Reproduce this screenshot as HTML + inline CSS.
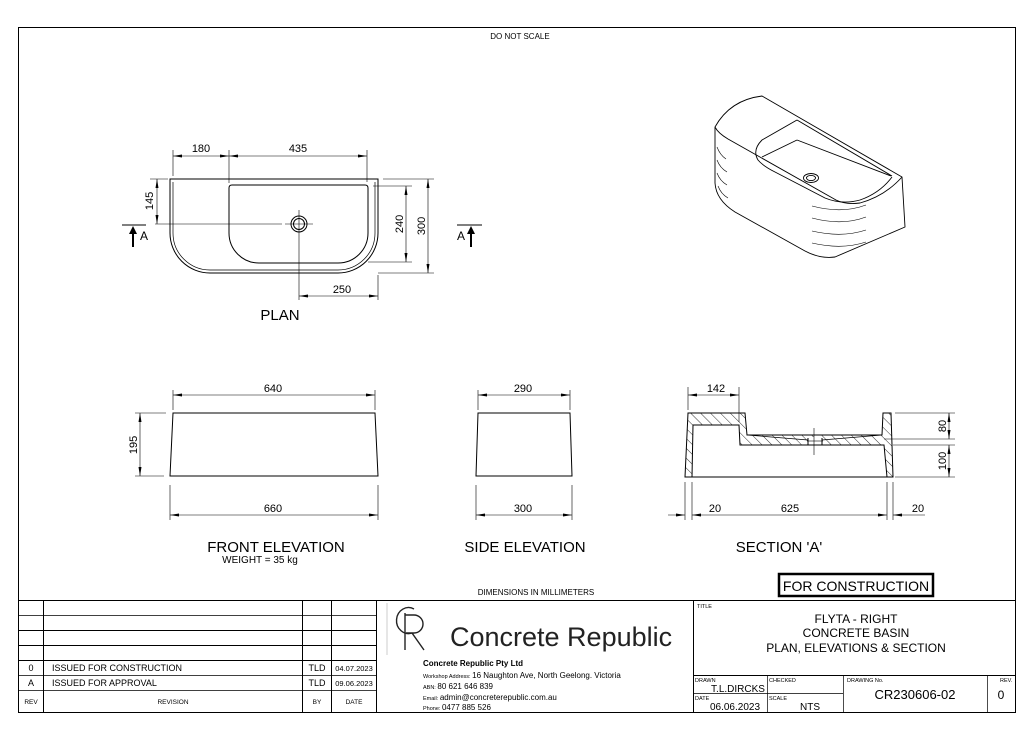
<!DOCTYPE html>
<html><head><meta charset="utf-8"><style>
html,body{margin:0;padding:0;background:#fff;}
svg{display:block;font-family:"Liberation Sans",Arial,sans-serif;}
</style></head><body>
<svg width="1034" height="732" viewBox="0 0 1034 732" xmlns="http://www.w3.org/2000/svg">
<defs>
<pattern id="h" patternUnits="userSpaceOnUse" width="7" height="7" patternTransform="rotate(-45)">
<rect width="7" height="7" fill="#fff"/><line x1="0" y1="0" x2="0" y2="7" stroke="#000" stroke-width="0.8"/>
</pattern>
<marker id="a" markerWidth="10" markerHeight="6" refX="9" refY="3" orient="auto-start-reverse" markerUnits="userSpaceOnUse"><path d="M0,1.5 L9,3 L0,4.5z" fill="#000"/></marker>
</defs>
<g fill="none" stroke="#000" stroke-width="1">
<rect x="18.5" y="27.5" width="997" height="685"/>
<line x1="18" y1="600.5" x2="1016" y2="600.5"/>
<line x1="18" y1="615.5" x2="376" y2="615.5" stroke-width="0.7"/>
<line x1="18" y1="630.5" x2="376" y2="630.5"/>
<line x1="18" y1="645.5" x2="376" y2="645.5"/>
<line x1="18" y1="660.5" x2="376" y2="660.5"/>
<line x1="18" y1="675.5" x2="376" y2="675.5" stroke-width="0.7"/>
<line x1="18" y1="690.5" x2="376" y2="690.5" stroke-width="0.7"/>
<line x1="43.5" y1="600" x2="43.5" y2="712"/>
<line x1="302.5" y1="600" x2="302.5" y2="712"/>
<line x1="331.5" y1="600" x2="331.5" y2="712"/>
<line x1="376.5" y1="600" x2="376.5" y2="712"/>
<line x1="693.5" y1="600" x2="693.5" y2="712"/>
<line x1="693" y1="675.5" x2="1016" y2="675.5"/>
<line x1="693" y1="693.5" x2="843" y2="693.5" stroke-width="0.7"/>
<line x1="767.5" y1="675" x2="767.5" y2="712" stroke-width="0.7"/>
<line x1="843.5" y1="675" x2="843.5" y2="712" stroke-width="0.7"/>
<line x1="987.5" y1="675" x2="987.5" y2="712" stroke-width="0.7"/>
<rect x="779" y="574" width="154" height="22" stroke-width="2.5"/>
<line x1="387" y1="603" x2="387" y2="655" stroke="#ccc"/>
</g>
<!-- PLAN -->
<g fill="none" stroke="#000" stroke-width="1">
<path d="M170,179 L170,233 A40,40 0 0 0 210,273 L338,273 A40,40 0 0 0 378,233 L378,179 Z"/>
<path d="M173,182 L173,233 A37,37 0 0 0 210,270 L338,270 A37,37 0 0 0 375,233 L375,182" stroke-width="0.7"/>
<path d="M232,185 L365,185 Q368,185 368,188 L368,233 A30,30 0 0 1 338,263 L259,263 A30,30 0 0 1 229,233 L229,188 Q229,185 232,185 Z"/>
<circle cx="299" cy="224" r="8"/><circle cx="299" cy="224" r="5.5"/>
<g stroke-width="0.6">
<line x1="155" y1="224" x2="282" y2="224"/><line x1="285" y1="224" x2="313" y2="224"/>
<line x1="299" y1="210" x2="299" y2="300"/>
<line x1="173" y1="150" x2="173" y2="176"/><line x1="229" y1="150" x2="229" y2="183"/><line x1="367" y1="150" x2="367" y2="182"/>
<line x1="173" y1="156" x2="229" y2="156" marker-start="url(#a)" marker-end="url(#a)"/>
<line x1="229" y1="156" x2="367" y2="156" marker-start="url(#a)" marker-end="url(#a)"/>
<line x1="150" y1="179" x2="168" y2="179"/>
<line x1="157" y1="179" x2="157" y2="224" marker-start="url(#a)" marker-end="url(#a)"/>
<line x1="373" y1="186" x2="412" y2="186"/><line x1="368" y1="262" x2="412" y2="262"/>
<line x1="406" y1="186" x2="406" y2="262" marker-start="url(#a)" marker-end="url(#a)"/>
<line x1="383" y1="179" x2="434" y2="179"/><line x1="378" y1="273" x2="434" y2="273"/>
<line x1="428" y1="179" x2="428" y2="273" marker-start="url(#a)" marker-end="url(#a)"/>
<line x1="378" y1="275" x2="378" y2="300"/>
<line x1="299" y1="296" x2="378" y2="296" marker-start="url(#a)" marker-end="url(#a)"/>
</g>
<line x1="122" y1="225" x2="146" y2="225"/>
<line x1="457" y1="225" x2="482" y2="225"/>
</g>
<path d="M133,247 L133,232" stroke="#000" stroke-width="2"/><path d="M129,234 L133,226 L137,234z"/>
<path d="M471,247 L471,232" stroke="#000" stroke-width="2"/><path d="M467,234 L471,226 L475,234z"/>
<g font-size="11" text-anchor="middle">
<text x="201" y="152">180</text><text x="298" y="152">435</text><text x="342" y="293">250</text>
<text transform="translate(153,201) rotate(-90)">145</text>
<text transform="translate(403,224) rotate(-90)">240</text>
<text transform="translate(425,226) rotate(-90)">300</text>
<text x="144" y="240" font-size="12">A</text><text x="461" y="240" font-size="12">A</text>
</g>
<text x="280" y="320" font-size="15" text-anchor="middle">PLAN</text>
<!-- 3D view -->
<g fill="none" stroke="#000" stroke-width="0.9" stroke-linejoin="round">
<path d="M762,96 L902,177 L905,227 L835,257 Q820,259 805,251 L735,212 Q716,200 715,183 L715,127 Q730,100 762,96 Z"/>
<path d="M715,127 Q718,133 728,139 L836,200 Q846,205 860,203 Q885,196 902,177"/>
<path d="M797,120 L892,176"/>
<path d="M797,120 L762,140 Q752,150 758,160 Q763,166 775,172 L825,198 Q842,205 860,200 Q880,193 892,177"/>
<path d="M797,140 L891,176"/>
<path d="M797,140 L762,157"/>
<ellipse cx="811" cy="178" rx="7.5" ry="4.5"/><ellipse cx="811" cy="178" rx="4.5" ry="2.6"/>
<g stroke-width="0.6">
<path d="M717,147 Q720,155 726,159"/><path d="M717,160 Q720,168 727,172"/><path d="M717,173 Q720,181 727,185"/><path d="M718,186 Q721,194 728,198"/>
<path d="M812,206 Q842,214 866,205"/><path d="M812,218 Q842,226 866,217"/><path d="M812,231 Q842,238 866,230"/><path d="M812,243 Q842,250 866,242"/>
</g>
</g>
<!-- FRONT ELEVATION -->
<g fill="none" stroke="#000" stroke-width="1">
<path d="M173,413 L375,413 L378,476 L170,476 Z"/>
<g stroke-width="0.6">
<line x1="173" y1="390" x2="173" y2="410"/><line x1="375" y1="390" x2="375" y2="410"/>
<line x1="173" y1="395" x2="375" y2="395" marker-start="url(#a)" marker-end="url(#a)"/>
<line x1="170" y1="485" x2="170" y2="520"/><line x1="378" y1="485" x2="378" y2="520"/>
<line x1="170" y1="515" x2="378" y2="515" marker-start="url(#a)" marker-end="url(#a)"/>
<line x1="135" y1="413" x2="166" y2="413"/><line x1="135" y1="476" x2="164" y2="476"/>
<line x1="140" y1="413" x2="140" y2="476" marker-start="url(#a)" marker-end="url(#a)"/>
</g>
<path d="M478,413 L570,413 L572,476 L476,476 Z"/>
<g stroke-width="0.6">
<line x1="478" y1="390" x2="478" y2="410"/><line x1="570" y1="390" x2="570" y2="410"/>
<line x1="478" y1="395" x2="570" y2="395" marker-start="url(#a)" marker-end="url(#a)"/>
<line x1="476" y1="485" x2="476" y2="520"/><line x1="572" y1="485" x2="572" y2="520"/>
<line x1="476" y1="515" x2="572" y2="515" marker-start="url(#a)" marker-end="url(#a)"/>
</g>
</g>
<g font-size="11" text-anchor="middle">
<text x="273" y="392">640</text><text x="273" y="512">660</text>
<text transform="translate(137,445) rotate(-90)">195</text>
<text x="523" y="392">290</text><text x="523" y="512">300</text>
</g>
<!-- SECTION -->
<path d="M688,413 L745,413 L747,435 L882,435 L883,413 L891,413 L893,477 L887,477 L884,445 L740,445 L739,425 L693,425 L692,477 L685,477 Z" fill="url(#h)" stroke="#000" stroke-width="1"/>
<rect x="808" y="437" width="14" height="7.5" fill="#fff"/>
<g fill="none" stroke="#000">
<line x1="685" y1="477" x2="893" y2="477"/>
<line x1="747" y1="435" x2="808" y2="440" stroke-width="0.7"/><line x1="822" y1="440" x2="882" y2="435" stroke-width="0.7"/>
<line x1="808" y1="438" x2="808" y2="445"/><line x1="822" y1="438" x2="822" y2="445"/>
<g stroke-width="0.6">
<line x1="814" y1="428" x2="814" y2="455"/><line x1="807" y1="441" x2="823" y2="441"/>
<line x1="688" y1="387" x2="688" y2="410"/><line x1="739" y1="387" x2="739" y2="422"/>
<line x1="688" y1="395" x2="739" y2="395" marker-start="url(#a)" marker-end="url(#a)"/>
<line x1="895" y1="413" x2="955" y2="413"/><line x1="884" y1="439" x2="955" y2="439"/><line x1="893" y1="445" x2="955" y2="445"/><line x1="895" y1="477" x2="955" y2="477"/>
<line x1="949" y1="413" x2="949" y2="439" marker-start="url(#a)" marker-end="url(#a)"/>
<line x1="949" y1="445" x2="949" y2="477" marker-start="url(#a)" marker-end="url(#a)"/>
<line x1="685" y1="482" x2="685" y2="520"/><line x1="692" y1="482" x2="692" y2="520"/>
<line x1="887" y1="482" x2="887" y2="520"/><line x1="893" y1="482" x2="893" y2="520"/>
<line x1="668" y1="515" x2="685" y2="515" marker-end="url(#a)"/>
<line x1="692" y1="515" x2="887" y2="515" marker-start="url(#a)" marker-end="url(#a)"/>
<line x1="893" y1="515" x2="925" y2="515" marker-start="url(#a)"/>
</g>
</g>
<g font-size="11" text-anchor="middle">
<text x="716" y="392">142</text>
<text x="715" y="512">20</text><text x="790" y="512">625</text><text x="918" y="512">20</text>
<text transform="translate(946,426) rotate(-90)">80</text>
<text transform="translate(946,461) rotate(-90)">100</text>
</g>
<g font-size="15" text-anchor="middle">
<text x="276" y="552">FRONT ELEVATION</text>
<text x="525" y="552">SIDE ELEVATION</text>
<text x="779" y="552">SECTION 'A'</text>
</g>
<text x="260" y="563" font-size="10" text-anchor="middle">WEIGHT = 35 kg</text>
<text x="520" y="39" font-size="8" text-anchor="middle">DO NOT SCALE</text>
<text x="536" y="595" font-size="8" text-anchor="middle">DIMENSIONS IN MILLIMETERS</text>
<text x="856" y="591" font-size="14" text-anchor="middle">FOR CONSTRUCTION</text>
<g font-size="9">
<text x="31" y="671" text-anchor="middle">0</text>
<text x="31" y="686" text-anchor="middle">A</text>
<text x="52" y="671">ISSUED FOR CONSTRUCTION</text>
<text x="52" y="686">ISSUED FOR APPROVAL</text>
<text x="317" y="671" text-anchor="middle">TLD</text>
<text x="317" y="686" text-anchor="middle">TLD</text>
<text x="354" y="671" text-anchor="middle" font-size="7.5">04.07.2023</text>
<text x="354" y="686" text-anchor="middle" font-size="7.5">09.06.2023</text>
</g>
<g font-size="6.5" text-anchor="middle">
<text x="31" y="704">REV</text><text x="173" y="704">REVISION</text><text x="317" y="704">BY</text><text x="354" y="704">DATE</text>
</g>
<g fill="none" stroke="#222" stroke-width="1.4">
<path d="M412,633 A12,13 0 1 1 414,609"/>
<path d="M405,613 L405,650 M405,615 L414,615 A9,9 0 0 1 414,633 L406,633 M412,633 L424,650"/>
</g>
<text x="450" y="646" font-size="27" fill="#222" font-weight="300">Concrete Republic</text>
<text x="423" y="666" font-size="8" font-weight="bold">Concrete Republic Pty Ltd</text>
<g font-size="8">
<text x="423" y="678"><tspan font-size="5.5">Workshop Address: </tspan>16 Naughton Ave, North Geelong. Victoria</text>
<text x="423" y="689"><tspan font-size="5.5">ABN: </tspan>80 621 646 839</text>
<text x="423" y="700"><tspan font-size="5.5">Email: </tspan>admin@concreterepublic.com.au</text>
<text x="423" y="710"><tspan font-size="5.5">Phone: </tspan>0477 885 526</text>
</g>
<text x="697" y="608" font-size="5.5">TITLE</text>
<g font-size="12" text-anchor="middle">
<text x="856" y="623">FLYTA - RIGHT</text>
<text x="856" y="637">CONCRETE BASIN</text>
<text x="856" y="652">PLAN, ELEVATIONS &amp; SECTION</text>
</g>
<g font-size="5.5">
<text x="695" y="682">DRAWN</text><text x="769" y="682">CHECKED</text><text x="847" y="682">DRAWING No.</text><text x="1000" y="682">REV.</text>
<text x="695" y="700">DATE</text><text x="769" y="700">SCALE</text>
</g>
<g font-size="10" text-anchor="middle">
<text x="738" y="692">T.L.DIRCKS</text>
<text x="735" y="710">06.06.2023</text>
<text x="810" y="710">NTS</text>
</g>
<text x="915" y="699" font-size="13" text-anchor="middle">CR230606-02</text>
<text x="1001" y="699" font-size="12" text-anchor="middle">0</text>
</svg>
</body></html>
